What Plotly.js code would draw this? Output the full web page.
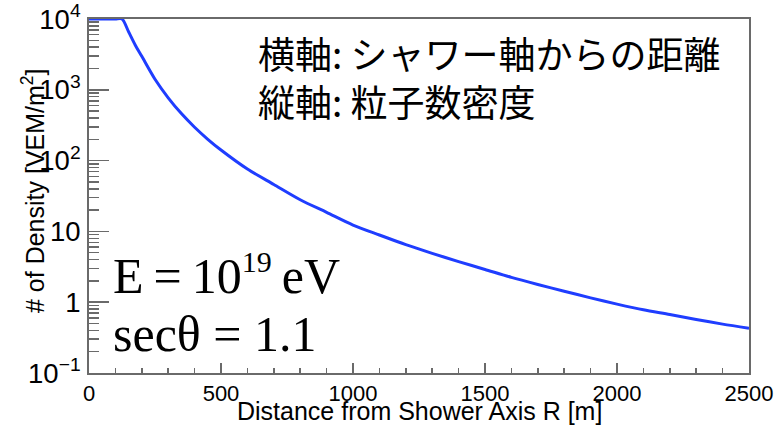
<!DOCTYPE html>
<html>
<head>
<meta charset="utf-8">
<script src="https://cdn.plot.ly/plotly-3.0.1.min.js"></script>
<style>
  html, body { margin: 0; padding: 0; background: #fff; }
  #chart { width: 778px; height: 429px; }
</style>
</head>
<body>
<div id="chart"></div>
<script>
// Lateral distribution of shower particles: distance from the shower axis [m]
const distance = [0, 50, 100, 125, 150, 175, 200, 250, 300, 350, 400, 450, 500,
  600, 700, 800, 900, 1000, 1100, 1200, 1300, 1400, 1500, 1600, 1700, 1800,
  1900, 2000, 2100, 2200, 2300, 2400, 2500];
// particle density [VEM/m^2] (saturated at the top of the frame near the core)
const density = [10000, 10000, 10000, 10000, 6600, 4300, 2970, 1410, 771, 461, 296, 200, 141,
  76, 46, 28, 18.6, 12.3, 8.9, 6.5, 4.9, 3.75, 2.9, 2.24, 1.78, 1.43,
  1.15, 0.94, 0.78, 0.67, 0.57, 0.49, 0.43];

const xTitle = 'Distance from Shower Axis R [m]';
const yTitle = '# of Density [VEM/m<sup>2</sup>]';
const noteJa = '横軸: シャワー軸からの距離<br>縦軸: 粒子数密度';
const noteEnergy = 'E\u2009=\u200910<sup><span style="font-size:30px">19</span></sup>\u2009eV';
const noteZenith = 'secθ = 1.1';
const noteCut = '0.6';

const frameColor = '#6a6a6a';
const sans = 'Liberation Sans, Arial, Helvetica, sans-serif';
const serif = 'Liberation Serif, Times New Roman, serif';
const jp = 'Noto Sans CJK JP, sans-serif';

// plot-area geometry in pixels, used to place the free-standing notes
const plotL = 89, plotR = 749, plotT = 19, plotB = 373;
const px = v => (v - plotL) / (plotR - plotL);
const py = v => (plotB - v) / (plotB - plotT);

const trace = {
  x: distance,
  y: density,
  type: 'scatter',
  mode: 'lines',
  line: { color: '#1f3dff', width: 3, shape: 'spline', smoothing: 0.8 },
  hoverinfo: 'skip'
};

const layout = {
  width: 778,
  height: 429,
  margin: { l: plotL, r: 778 - plotR, t: plotT, b: 429 - plotB },
  paper_bgcolor: '#ffffff',
  plot_bgcolor: '#ffffff',
  showlegend: false,
  font: { family: sans, color: '#000' },
  xaxis: {
    range: [0, 2500],
    tickmode: 'linear', tick0: 0, dtick: 500,
    ticks: 'inside', ticklen: 10, tickwidth: 1.5, tickcolor: frameColor,
    minor: { dtick: 100, ticks: 'inside', ticklen: 5, tickwidth: 1.5, tickcolor: frameColor, showgrid: false },
    showgrid: false, zeroline: false,
    showline: true, linecolor: frameColor, linewidth: 2, mirror: true,
    tickfont: { family: sans, size: 22, color: '#000' },
    layer: 'below traces'
  },
  yaxis: {
    type: 'log',
    range: [-1, 4],
    tickmode: 'linear', tick0: 0, dtick: 1,
    exponentformat: 'power',
    ticks: 'inside', ticklen: 20, tickwidth: 1.5, tickcolor: frameColor,
    minor: { dtick: 'D1', ticks: 'inside', ticklen: 10, tickwidth: 1.5, tickcolor: frameColor, showgrid: false },
    showgrid: false, zeroline: false,
    showline: true, linecolor: frameColor, linewidth: 2, mirror: true,
    tickfont: { family: sans, size: 22, color: '#000' },
    ticklabelstandoff: 2,
    layer: 'below traces'
  },
  annotations: [
    {
      text: xTitle,
      xref: 'paper', yref: 'paper', x: 0.5, y: py(411),
      xanchor: 'center', yanchor: 'middle', showarrow: false,
      font: { family: sans, size: 25, color: '#000' }
    },
    {
      text: yTitle, textangle: -90,
      xref: 'paper', yref: 'paper', x: px(33), y: py(191),
      xanchor: 'center', yanchor: 'middle', showarrow: false,
      font: { family: sans, size: 25, color: '#000' }
    },
    {
      text: noteJa, align: 'left',
      xref: 'paper', yref: 'paper', x: px(256), y: py(77),
      xanchor: 'left', yanchor: 'middle', showarrow: false,
      font: { family: jp, size: 37, color: '#000' }
    },
    {
      text: noteEnergy, align: 'left',
      xref: 'paper', yref: 'paper', x: px(111), y: py(274),
      xanchor: 'left', yanchor: 'middle', showarrow: false,
      font: { family: serif, size: 50, color: '#000' }
    },
    {
      text: noteZenith, align: 'left',
      xref: 'paper', yref: 'paper', x: px(111), y: py(334),
      xanchor: 'left', yanchor: 'middle', showarrow: false,
      font: { family: serif, size: 50, color: '#000' }
    },
    {
      text: noteCut, align: 'left',
      xref: 'paper', yref: 'paper', x: px(186), y: py(446),
      xanchor: 'left', yanchor: 'middle', showarrow: false,
      font: { family: serif, size: 26, color: '#000' }
    }
  ]
};

Plotly.newPlot('chart', [trace], layout, { staticPlot: true, displayModeBar: false });
</script>
</body>
</html>
